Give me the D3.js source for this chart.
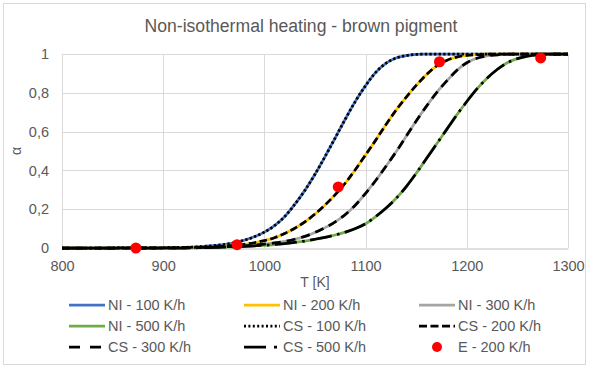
<!DOCTYPE html>
<html><head><meta charset="utf-8">
<script src="https://cdn.jsdelivr.net/npm/d3@7"></script>
<style>
html,body{margin:0;padding:0;background:#fff;}
svg{display:block;font-family:"Liberation Sans",Arial,sans-serif;}
</style></head>
<body><svg id="c" width="589" height="367"></svg>
<script>
const title = "Non-isothermal heating - brown pigment";
const xLabel = "T [K]";
const yLabel = "α";
const xTicks = [800, 900, 1000, 1100, 1200, 1300];
const yTicks = [0, 0.2, 0.4, 0.6, 0.8, 1];
const yTickLabels = ["0", "0,2", "0,4", "0,6", "0,8", "1"];

const temps = [800, 850, 900, 910, 920, 930, 940, 950, 960, 970, 980, 990, 1000, 1010, 1020, 1030, 1040, 1050, 1060, 1070, 1080, 1090, 1100, 1110, 1120, 1130, 1140, 1150, 1160, 1170, 1180, 1190, 1200, 1210, 1220, 1230, 1240, 1250, 1260, 1270, 1280, 1290, 1300];

const ni100 = [0, 0, 0.001, 0.002, 0.003, 0.005, 0.008, 0.012, 0.018, 0.027, 0.04, 0.058, 0.082, 0.115, 0.162, 0.225, 0.297, 0.38, 0.472, 0.568, 0.665, 0.757, 0.837, 0.905, 0.952, 0.979, 0.992, 0.998, 0.9995, 1, 1, 1, 1, 1, 1, 1, 1, 1, 1, 1, 1, 1, 1];
const ni200 = [0, 0, 0.001, 0.001, 0.002, 0.003, 0.004, 0.006, 0.009, 0.013, 0.019, 0.027, 0.038, 0.053, 0.075, 0.102, 0.135, 0.175, 0.222, 0.275, 0.335, 0.405, 0.48, 0.556, 0.635, 0.71, 0.777, 0.838, 0.893, 0.938, 0.967, 0.984, 0.993, 0.997, 0.999, 1, 1, 1, 1, 1, 1, 1, 1];
const ni300 = [0, 0, 0, 0.001, 0.001, 0.002, 0.003, 0.004, 0.006, 0.008, 0.011, 0.015, 0.02, 0.026, 0.034, 0.045, 0.06, 0.08, 0.105, 0.135, 0.173, 0.222, 0.282, 0.348, 0.42, 0.495, 0.575, 0.655, 0.73, 0.8, 0.86, 0.915, 0.955, 0.978, 0.99, 0.996, 0.999, 1, 1, 1, 1, 1, 1];
const ni500 = [0, 0, 0, 0, 0, 0.001, 0.002, 0.003, 0.004, 0.006, 0.008, 0.011, 0.014, 0.018, 0.023, 0.029, 0.036, 0.045, 0.055, 0.067, 0.082, 0.1, 0.125, 0.162, 0.205, 0.255, 0.315, 0.385, 0.46, 0.535, 0.61, 0.685, 0.755, 0.82, 0.875, 0.92, 0.955, 0.976, 0.989, 0.996, 0.999, 1, 1];

const cs100 = [0, 0, 0.001, 0.002, 0.003, 0.005, 0.008, 0.012, 0.018, 0.027, 0.04, 0.058, 0.082, 0.115, 0.162, 0.225, 0.297, 0.38, 0.472, 0.568, 0.665, 0.757, 0.837, 0.905, 0.952, 0.979, 0.992, 0.998, 0.9995, 1, 1, 1, 1, 1, 1, 1, 1, 1, 1, 1, 1, 1, 1];
const cs200 = [0, 0, 0.001, 0.001, 0.002, 0.003, 0.004, 0.006, 0.009, 0.013, 0.019, 0.027, 0.038, 0.053, 0.075, 0.102, 0.135, 0.175, 0.222, 0.275, 0.335, 0.405, 0.48, 0.556, 0.635, 0.71, 0.777, 0.838, 0.893, 0.938, 0.967, 0.984, 0.993, 0.997, 0.999, 1, 1, 1, 1, 1, 1, 1, 1];
const cs300 = [0, 0, 0, 0.001, 0.001, 0.002, 0.003, 0.004, 0.006, 0.008, 0.011, 0.015, 0.02, 0.026, 0.034, 0.045, 0.06, 0.08, 0.105, 0.135, 0.173, 0.222, 0.282, 0.348, 0.42, 0.495, 0.575, 0.655, 0.73, 0.8, 0.86, 0.915, 0.955, 0.978, 0.99, 0.996, 0.999, 1, 1, 1, 1, 1, 1];
const cs500 = [0, 0, 0, 0, 0, 0.001, 0.002, 0.003, 0.004, 0.006, 0.008, 0.011, 0.014, 0.018, 0.023, 0.029, 0.036, 0.045, 0.055, 0.067, 0.082, 0.1, 0.125, 0.162, 0.205, 0.255, 0.315, 0.385, 0.46, 0.535, 0.61, 0.685, 0.755, 0.82, 0.875, 0.92, 0.955, 0.976, 0.989, 0.996, 0.999, 1, 1];

const expTemps = [873, 973, 1073, 1173, 1273];
const exp200 = [0, 0.017, 0.315, 0.96, 0.98];

const seriesNames = ["NI - 100 K/h", "NI - 200 K/h", "NI - 300 K/h", "NI - 500 K/h", "CS - 100 K/h", "CS - 200 K/h", "CS - 300 K/h", "CS - 500 K/h", "E - 200 K/h"];

const svg = d3.select("#c");
const x = d3.scaleLinear().domain([800, 1300]).range([62, 568]);
const y = d3.scaleLinear().domain([0, 1]).range([248, 54]);

// chart border
svg.append("rect").attr("x", 3.5).attr("y", 3.5).attr("width", 582).attr("height", 361)
  .attr("fill", "#fff").attr("stroke", "#d9d9d9").attr("stroke-width", 1);

// title
svg.append("text").attr("x", 301).attr("y", 32).attr("text-anchor", "middle")
  .attr("font-size", 17.6).attr("fill", "#595959").text(title);

// gridlines
const grid = svg.append("g");
grid.selectAll("line.h").data(yTicks.filter(d => d > 0)).join("line")
  .attr("x1", x(800)).attr("x2", x(1300))
  .attr("y1", d => Math.round(y(d)) + 0.5).attr("y2", d => Math.round(y(d)) + 0.5)
  .attr("stroke", "#d9d9d9").attr("stroke-width", 1);
grid.selectAll("line.v").data(xTicks).join("line")
  .attr("x1", d => Math.round(x(d)) + 0.5).attr("x2", d => Math.round(x(d)) + 0.5)
  .attr("y1", y(1)).attr("y2", y(0))
  .attr("stroke", "#d9d9d9").attr("stroke-width", 1);

// axes
const xAxis = d3.axisBottom(x).tickValues(xTicks).tickSize(0).tickPadding(12).tickFormat(d3.format("d"));
const gx = svg.append("g").attr("transform", `translate(0,${Math.round(y(0)) + 0.5})`).call(xAxis);
gx.select(".domain").attr("stroke", "#bfbfbf").attr("stroke-width", 1);
gx.selectAll("text").attr("font-size", 14.5).attr("fill", "#595959").attr("font-family", "Liberation Sans, Arial, sans-serif");

const yAxis = d3.axisLeft(y).tickValues(yTicks).tickSize(0).tickPadding(13).tickFormat((d, i) => yTickLabels[i]);
const gy = svg.append("g").attr("transform", `translate(${x(800)},0)`).call(yAxis);
gy.select(".domain").remove();
gy.selectAll("text").attr("font-size", 14.5).attr("fill", "#595959").attr("font-family", "Liberation Sans, Arial, sans-serif");

// axis titles
svg.append("text").attr("x", 315).attr("y", 287).attr("text-anchor", "middle")
  .attr("font-size", 14).attr("fill", "#595959").text(xLabel);
svg.append("text").attr("transform", `translate(21,151) rotate(-90)`).attr("text-anchor", "middle")
  .attr("font-size", 14).attr("fill", "#595959").text(yLabel);

const line = d3.line().x((d, i) => x(temps[i])).y(d => y(d)).curve(d3.curveMonotoneX);

const LW = 2.75;
const series = [
  {name: seriesNames[0], data: ni100, color: "#4472c4", dash: null},
  {name: seriesNames[1], data: ni200, color: "#ffc000", dash: null},
  {name: seriesNames[2], data: ni300, color: "#a5a5a5", dash: null},
  {name: seriesNames[3], data: ni500, color: "#70ad47", dash: null},
  {name: seriesNames[4], data: cs100, color: "#000", dash: "2.3,2.3", legDash: "2,2.4"},
  {name: seriesNames[5], data: cs200, color: "#000", dash: "7.5,3.5", legDash: "8,3.5"},
  {name: seriesNames[6], data: cs300, color: "#000", dash: "9,6", legDash: "11,10"},
  {name: seriesNames[7], data: cs500, color: "#000", dash: "22,5.5,2.5,5.5", legDash: "22,8,3,8"}
];

const plot = svg.append("g");
series.forEach(s => {
  plot.append("path").datum(s.data).attr("d", line)
    .attr("fill", "none").attr("stroke", s.color).attr("stroke-width", LW)
    .attr("stroke-dasharray", s.dash);
});

plot.selectAll("circle.e").data(exp200).join("circle")
  .attr("cx", (d, i) => x(expTemps[i])).attr("cy", d => y(d)).attr("r", 5.5)
  .attr("fill", "#ff0000");

// legend
const colX = [69, 244, 419];
const rowY = [305, 326, 347];
const leg = svg.append("g");
seriesNames.forEach((name, i) => {
  const cx = colX[i % 3], cy = rowY[Math.floor(i / 3)];
  if (i < 8) {
    const s = series[i];
    leg.append("line").attr("x1", cx).attr("x2", cx + 36).attr("y1", cy).attr("y2", cy)
      .attr("stroke", s.color).attr("stroke-width", LW).attr("stroke-dasharray", s.legDash || null);
  } else {
    leg.append("circle").attr("cx", cx + 18).attr("cy", cy).attr("r", 5).attr("fill", "#ff0000");
  }
  leg.append("text").attr("x", cx + 39).attr("y", cy + 5).attr("font-size", 14.5)
    .attr("fill", "#595959").text(name);
});
</script>
</body></html>
